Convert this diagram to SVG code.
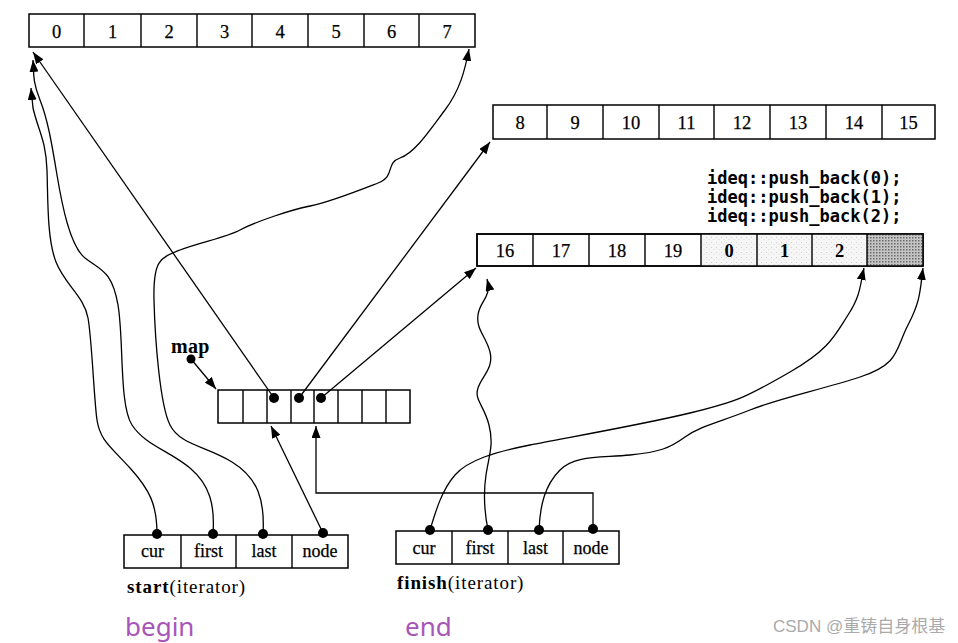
<svg xmlns="http://www.w3.org/2000/svg" width="958" height="643" viewBox="0 0 958 643">
<style>
.box{fill:#fff;stroke:#000;stroke-width:1.5}
.div{stroke:#000;stroke-width:1.4}
.num{font-family:"Liberation Serif",serif;font-size:18.5px;text-anchor:middle;fill:#000;stroke:#000;stroke-width:0.25}
.bnum{font-family:"Liberation Serif",serif;font-size:18.5px;font-weight:bold;text-anchor:middle;fill:#000}
.lbl{font-family:"Liberation Serif",serif;font-size:18px;text-anchor:middle;fill:#000;stroke:#000;stroke-width:0.25}
.cap{font-family:"Liberation Serif",serif;font-size:19px;letter-spacing:0.9px;fill:#000}
.code{font-family:"DejaVu Sans Mono","Liberation Mono",monospace;font-size:17px;font-weight:bold;fill:#000}
.conn{fill:none;stroke:#000;stroke-width:1.3;marker-end:url(#arr)}
.dot{fill:#000}
.tag{font-family:"Noto Sans","Open Sans",sans-serif;font-size:26px;fill:#a855b8}
</style>
<defs>
<marker id="arr" viewBox="0 0 12 9" refX="12" refY="4.5" markerWidth="12" markerHeight="9" markerUnits="userSpaceOnUse" orient="auto">
<path d="M0,0 L12,4.5 L0,9 z" fill="#000"/>
</marker>
<pattern id="hatch" width="3" height="3" patternUnits="userSpaceOnUse">
<rect width="3" height="3" fill="#c4c4c4"/>
<rect width="1.5" height="1.5" fill="#6a6a6a"/>
</pattern>
<pattern id="speck" width="5" height="5" patternUnits="userSpaceOnUse">
<rect width="5" height="5" fill="#f6f6f6"/>
<rect x="1" y="2" width="1" height="1" fill="#cfcfcf"/>
<rect x="3.5" y="4" width="1" height="1" fill="#dddddd"/>
</pattern>
</defs>

<g id="buffer-0-7">
<rect class="box" x="29" y="14" width="446" height="33"/>
<path class="div" d="M84,14V47M141,14V47M197,14V47M252,14V47M308,14V47M364,14V47M419,14V47"/>
<text class="num" x="56.5" y="38">0</text>
<text class="num" x="112.5" y="38">1</text>
<text class="num" x="169" y="38">2</text>
<text class="num" x="224.5" y="38">3</text>
<text class="num" x="280" y="38">4</text>
<text class="num" x="336" y="38">5</text>
<text class="num" x="391.5" y="38">6</text>
<text class="num" x="447" y="38">7</text>
</g>

<g id="buffer-8-15">
<rect class="box" x="493" y="105" width="442" height="34"/>
<path class="div" d="M547,105V139M603,105V139M659,105V139M714,105V139M770,105V139M826,105V139M882,105V139"/>
<text class="num" x="520" y="129">8</text>
<text class="num" x="575" y="129">9</text>
<text class="num" x="631" y="129">10</text>
<text class="num" x="686.5" y="129">11</text>
<text class="num" x="742" y="129">12</text>
<text class="num" x="798" y="129">13</text>
<text class="num" x="854" y="129">14</text>
<text class="num" x="908.5" y="129">15</text>
</g>

<g id="push-back-code">
<text class="code" x="707" y="184">ideq::push_back(0);</text>
<text class="code" x="707" y="203">ideq::push_back(1);</text>
<text class="code" x="707" y="222">ideq::push_back(2);</text>
</g>

<g id="buffer-16-19">
<rect class="box" x="477" y="234" width="446" height="32"/>
<rect x="701" y="234" width="166" height="32" fill="url(#speck)"/>
<rect x="867" y="234" width="56" height="32" fill="url(#hatch)"/>
<rect x="477" y="234" width="446" height="32" fill="none" stroke="#000" stroke-width="1.5"/>
<path class="div" d="M533,234V266M589,234V266M645,234V266M701,234V266M757,234V266M812,234V266M867,234V266"/>
<text class="num" x="505" y="257">16</text>
<text class="num" x="561" y="257">17</text>
<text class="num" x="617" y="257">18</text>
<text class="num" x="673" y="257">19</text>
<text class="bnum" x="729" y="257">0</text>
<text class="bnum" x="784.5" y="257">1</text>
<text class="bnum" x="839.5" y="257">2</text>
</g>

<g id="map">
<rect class="box" x="218" y="390" width="192" height="33"/>
<path class="div" d="M243,390V423M267,390V423M291,390V423M314,390V423M338,390V423M362,390V423M386,390V423"/>
<circle class="dot" cx="274" cy="398" r="5"/>
<circle class="dot" cx="299" cy="398" r="5"/>
<circle class="dot" cx="321" cy="398" r="5"/>
</g>

<g id="map-label">
<text x="171" y="353" font-family="Liberation Serif,serif" font-size="20" font-weight="bold" letter-spacing="0.3">map</text>
<circle class="dot" cx="191" cy="359" r="4.5"/>
</g>

<g id="start">
<rect class="box" x="124" y="535" width="224" height="33"/>
<path class="div" d="M181,535V568M236,535V568M292,535V568"/>
<text class="lbl" x="152.5" y="557">cur</text>
<text class="lbl" x="208.5" y="557">first</text>
<text class="lbl" x="264" y="557">last</text>
<text class="lbl" x="320" y="557">node</text>
<circle class="dot" cx="157" cy="534" r="5"/>
<circle class="dot" cx="213" cy="534" r="5"/>
<circle class="dot" cx="263" cy="534" r="5"/>
<circle class="dot" cx="323" cy="533" r="5"/>
<text class="cap" x="127" y="593"><tspan font-weight="bold">start</tspan>(iterator)</text>
</g>

<g id="finish">
<rect class="box" x="396" y="531" width="223" height="33"/>
<path class="div" d="M452,531V564M508,531V564M563,531V564"/>
<text class="lbl" x="424" y="554">cur</text>
<text class="lbl" x="480" y="554">first</text>
<text class="lbl" x="535.5" y="554">last</text>
<text class="lbl" x="591" y="554">node</text>
<circle class="dot" cx="430" cy="530" r="5"/>
<circle class="dot" cx="488" cy="530" r="5"/>
<circle class="dot" cx="539" cy="530" r="5"/>
<circle class="dot" cx="593" cy="529" r="5"/>
<text class="cap" x="397" y="589"><tspan font-weight="bold">finish</tspan>(iterator)</text>
</g>

<g id="connectors">
<path class="conn" d="M191,359 L216,389"/>
<path class="conn" d="M274,398 L33,52"/>
<path class="conn" d="M299,398 L490,142"/>
<path class="conn" d="M321,398 L476,268"/>
<path class="conn" d="M157,534 C157,505 150,490 130,468 S100,440 97,420 S92,340 88,318 S65,285 56,262 S48,200 47,170 S38,130 33,108 L31,88"/>
<path class="conn" d="M213,534 C215,505 210,485 190,468 S145,445 132,425 S124,340 118,305 S100,270 85,258 S62,205 57,175 S48,120 40,100 S34,72 33,60"/>
<path class="conn" d="M263,534 C265,500 258,478 232,462 S180,445 170,425 S155,340 154,300 S160,258 180,250 S225,238 240,230 S290,210 310,206 S360,190 378,183 S385,163 400,158 S430,130 445,110 S465,70 469,49"/>
<path class="conn" d="M323,533 L271,426"/>
<path class="conn" d="M593,529 L593,493 L316,493 L316,426"/>
<path class="conn" d="M430,530 C436,510 442,490 455,475 S495,452 530,445 S640,425 690,413 S750,395 790,372 S835,335 848,315 S860,285 864,268"/>
<path class="conn" d="M488,530 C484,510 483,495 486,475 S494,445 489,425 S474,400 478,388 S494,368 490,352 S476,330 478,315 S492,298 487,279"/>
<path class="conn" d="M539,530 C540,505 545,485 560,470 S600,458 630,455 S670,448 685,437 S720,422 750,410 S820,390 860,377 S895,350 908,325 S920,290 923,268"/>
</g>

<g id="captions">
<text class="tag" x="125" y="636">begin</text>
<text class="tag" x="405" y="636">end</text>
<text x="773" y="632" font-family="Liberation Sans,Noto Sans CJK SC,sans-serif" font-size="17" fill="#aaaaaa">CSDN @重铸自身根基</text>
</g>
</svg>
